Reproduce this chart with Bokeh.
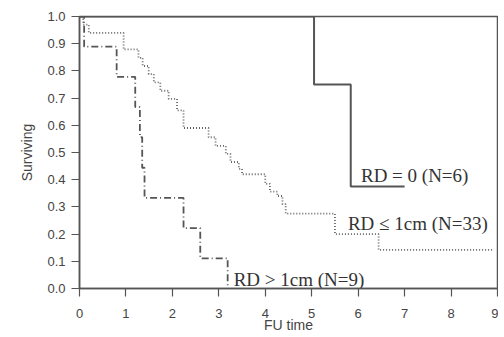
from bokeh.plotting import figure
from bokeh.models import Range1d, FixedTicker
from bokeh.core.properties import value
from bokeh.embed import file_html
from bokeh.resources import INLINE

# RD = 0 (N=6)
t_rd0 = [0.0, 5.05, 5.84]
s_rd0 = [1.0, 0.75, 0.375]
end_rd0 = 7.0

# RD <= 1cm (N=33)
t_rd1 = [0.0, 0.08, 0.2, 0.95, 1.27, 1.36, 1.49, 1.6, 1.74, 1.92, 2.1, 2.24,
         2.78, 2.93, 3.15, 3.25, 3.43, 3.5, 4.0, 4.1, 4.26, 4.37, 4.44, 5.5, 6.44]
s_rd1 = [1.0, 0.97, 0.94, 0.879, 0.848, 0.818, 0.788, 0.758, 0.727, 0.697, 0.655, 0.59,
         0.556, 0.524, 0.495, 0.465, 0.44, 0.42, 0.385, 0.356, 0.34, 0.31, 0.275, 0.2, 0.142]
end_rd1 = 8.9

# RD > 1cm (N=9)
t_rd2 = [0.0, 0.1, 0.8, 1.2, 1.3, 1.35, 1.4, 2.24, 2.6, 3.19]
s_rd2 = [1.0, 0.889, 0.778, 0.667, 0.556, 0.444, 0.333, 0.222, 0.111, 0.0]

labels = ["RD = 0 (N=6)", "RD \u2264 1cm (N=33)", "RD > 1cm (N=9)"]
label_x = [6.06, 5.78, 3.32]
label_y = [0.415, 0.24, 0.033]

x_ticks = [0, 1, 2, 3, 4, 5, 6, 7, 8, 9]
y_ticks = [0.0, 0.1, 0.2, 0.3, 0.4, 0.5, 0.6, 0.7, 0.8, 0.9, 1.0]

p = figure(width=498, height=335, output_backend="svg", toolbar_location=None,
           x_range=Range1d(0, 9), y_range=Range1d(0, 1.0),
           min_border_left=79, min_border_top=16, min_border_right=1, min_border_bottom=44)
p.grid.visible = False
p.outline_line_color = "#555555"
p.outline_line_width = 1.5
p.background_fill_color = "white"
p.border_fill_color = "white"

gray = "#555555"
for ax in (p.xaxis[0], p.yaxis[0]):
    ax.axis_line_color = gray
    ax.axis_line_width = 1.5
    ax.major_tick_line_color = gray
    ax.major_tick_line_width = 1.2
    ax.major_tick_out = 8
    ax.major_tick_in = 0
    ax.minor_tick_line_color = None
    ax.major_label_text_font = "Liberation Sans"
    ax.major_label_text_font_size = "13px"
    ax.major_label_text_color = "#444444"
    ax.axis_label_text_font = "Liberation Sans"
    ax.axis_label_text_font_style = "normal"
    ax.axis_label_text_color = "#444444"

p.xaxis.ticker = FixedTicker(ticks=x_ticks)
p.yaxis.ticker = FixedTicker(ticks=y_ticks)
p.yaxis.major_label_overrides = {v: f"{v:.1f}" for v in y_ticks}
p.xaxis.major_label_standoff = 12
p.yaxis.major_label_standoff = 6
p.xaxis.axis_label = "FU time"
p.yaxis.axis_label = "Surviving"
p.xaxis.axis_label_text_font_size = "14px"
p.yaxis.axis_label_text_font_size = "14px"
p.xaxis.axis_label_standoff = -4
p.yaxis.axis_label_standoff = 9

p.step(t_rd0 + [end_rd0], s_rd0 + [s_rd0[-1]], mode="after",
       line_color="#555555", line_width=2)
p.step(t_rd1 + [end_rd1], s_rd1 + [s_rd1[-1]], mode="after",
       line_color="#666666", line_width=1.8, line_dash="1 2")
p.step(t_rd2, s_rd2, mode="after",
       line_color="#555555", line_width=1.8, line_dash="7 3 1 3")

p.text(x=label_x, y=label_y, text=labels, text_font=value("Liberation Serif"),
       text_font_size="19px", text_color="#333333", text_baseline="middle",
       text_align="left")

open("out.html", "w").write(file_html(p, INLINE))
